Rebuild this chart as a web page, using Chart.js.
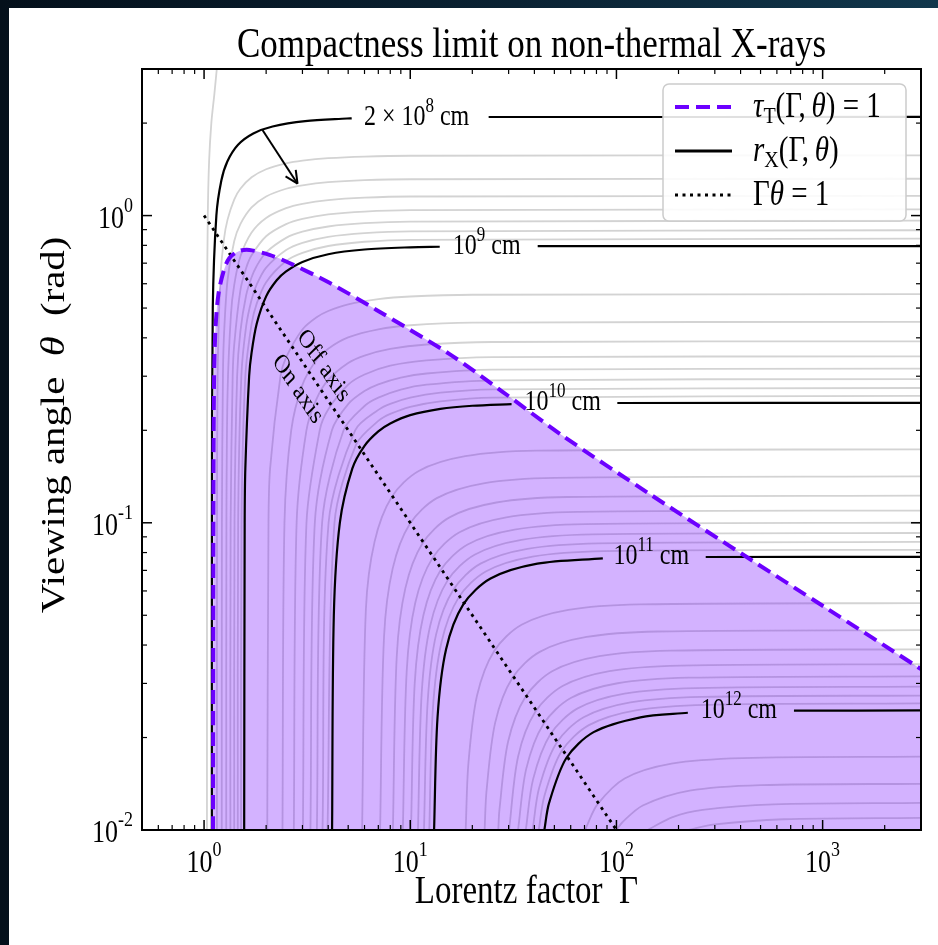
<!DOCTYPE html>
<html>
<head>
<meta charset="utf-8">
<title>Compactness limit on non-thermal X-rays</title>
<script src="https://cdn.jsdelivr.net/npm/chart.js"></script>
<style>
  html, body { margin: 0; padding: 0; width: 938px; height: 945px; overflow: hidden; }
  body { background: linear-gradient(90deg, #04101b 0%, #0a2233 55%, #11374c 100%); }
  #sheet { position: absolute; left: 9px; top: 8px; right: 0; bottom: 0; background: #fff; }
  #chart { position: absolute; left: 0; top: 0; }
</style>
</head>
<body>
<div id="sheet"></div>
<canvas id="chart" width="938" height="945"></canvas>
<script>
// Contours of r_X (cm) as [Lorentz factor, viewing angle in rad] points.
// One list per decade: k x 10^n for k = 1..9. A null angle breaks the line (label gap).
const contours1e8 = [
  [[1.0328,0.01],[1.035,0.5],[1.0424,1],[1.0577,1.5],[1.0845,2],[1.1228,2.5],[1.1528,3]],
  [[1.0911,0.01],[1.0915,0.1],[1.1022,0.5],[1.1472,1],[1.2128,1.3],[1.2968,1.5],[1.4616,1.7],[1.733,1.85],[2.1489,1.95],[3.0944,2.03],[4.934,2.07],[5.2,2.0726],[10,null],[24,2.0934],[3000,2.0944]],
  [[1.1547,0.01],[1.1556,0.1],[1.1637,0.3],[1.2,0.6282],[1.25,0.8411],[1.3,0.9702],[1.4,1.1275],[1.5,1.2222],[1.7,1.332],[2,1.4155],[2.5,1.4796],[3,1.5101],[4,1.538],[6,1.5566],[10,1.5658],[3000,1.5708]],
  [[1.2185,0.01],[1.2203,0.1],[1.2345,0.3],[1.25,0.4115],[1.3,0.6175],[1.4,0.8247],[1.5,0.9375],[1.7,1.0627],[2,1.1542],[2.5,1.2228],[3,1.2547],[4,1.284],[6,1.3034],[10,1.3128],[3000,1.3181]],
  [[1.281,0.01],[1.2836,0.1],[1.3,0.2652],[1.35,0.4766],[1.4,0.5937],[1.5,0.7354],[1.7,0.8805],[2,0.9828],[2.5,1.0575],[3,1.0921],[4,1.1232],[6,1.1437],[10,1.1539],[3000,1.1593]],
  [[1.3416,0.01],[1.3453,0.1],[1.3764,0.3],[1.4,0.3794],[1.5,0.5707],[1.6,0.6747],[1.7,0.7424],[2,0.8567],[2.5,0.9381],[3,0.9756],[4,1.0087],[6,1.0308],[10,1.0414],[3000,1.0472]],
  [[1.4003,0.01],[1.405,0.1],[1.4466,0.3],[1.5,0.4201],[1.6,0.5504],[1.7,0.6298],[1.8,0.6856],[2,0.7587],[2.5,0.8461],[3,0.886],[4,0.9214],[6,0.9445],[10,0.9557],[3000,0.9626]],
  [[1.457,0.01],[1.463,0.1],[1.5163,0.3],[1.6,0.437],[1.7,0.5325],[1.8,0.596],[2,0.677],[2.5,0.7729],[3,0.8155],[4,0.853],[6,0.8769],[10,0.8886],[3000,0.8957]],
  [[1.5119,0.01],[1.5192,0.1],[1.5855,0.3],[1.7,0.4434],[1.8,0.5168],[2,0.607],[2.5,0.7111],[3,0.7565],[4,0.7961],[6,0.8218],[10,0.8341],[3000,0.8411]]
];
const contours1e9 = [
  [[1.565,0.01],[1.5739,0.1],[1.5853,0.15],[1.6543,0.3],[1.7,0.3579],[1.8,0.4446],[2,0.5458],[2.25,0.6156],[2.5,0.658],[3,0.7066],[4,0.7486],[6,0.7755],[10,0.7884],[13.9,0.7917],[20,null],[41.5,0.795],[3000,0.7954]],
  [[2.025,0.01],[2.0531,0.1],[2.0903,0.15],[2.3471,0.3],[2.5,0.3453],[3,0.4257],[3.5,0.4657],[4,0.489],[5,0.5144],[7,0.5347],[10,0.5452],[20,0.5524],[3000,0.5548]],
  [[2.4004,0.01],[2.4545,0.1],[2.6466,0.2],[3,0.2812],[3.5,0.3379],[4,0.3687],[5,0.4013],[7,0.4264],[10,0.4395],[20,0.4481],[3000,0.451]],
  [[2.725,0.01],[2.811,0.1],[3.1364,0.2],[3.5,0.2518],[4,0.2917],[5,0.3312],[6,0.3503],[8,0.3684],[12,0.3805],[25,0.3877],[3000,0.3898]],
  [[3.0151,0.01],[3.1382,0.1],[3.6377,0.2],[4,0.2337],[5,0.2815],[6,0.3039],[8,0.3245],[12,0.3377],[25,0.3459],[3000,0.3482]],
  [[3.2796,0.01],[3.4448,0.1],[4.169,0.2],[5,0.2434],[6,0.2683],[7,0.2822],[9,0.2969],[12,0.3062],[25,0.3151],[3000,0.3176]],
  [[3.5243,0.01],[3.7364,0.1],[4.749,0.2],[6,0.24],[7,0.2555],[9,0.2714],[12,0.2815],[25,0.291],[3000,0.2937]],
  [[3.7537,0.01],[4.017,0.1],[5.404,0.2],[7,0.2331],[8,0.2439],[10,0.2556],[14,0.2651],[25,0.2717],[3000,0.2746]],
  [[3.9691,0.01],[4.29,0.1],[5.466,0.18],[7,0.2146],[8,0.2261],[10,0.2386],[14,0.2486],[25,0.2557],[3000,0.2588]]
];
const contours1e10 = [
  [[4.177,0.01],[4.259,0.05],[4.555,0.1],[5.234,0.15],[6,0.178],[7,0.1983],[8,0.2105],[10,0.2241],[14,0.2349],[20,0.2404],[31,0.2434],[50,null],[101,0.2454],[3000,0.2456]],
  [[5.84,0.01],[6.09,0.052],[6.71,0.0867],[8.13,0.1214],[10.99,0.1474],[18.49,0.1647],[40.93,0.1717],[3000,0.1734]],
  [[7.142,0.01],[7.46,0.04246],[8.21,0.07077],[9.94,0.09908],[13.45,0.12031],[22.65,0.13446],[50.13,0.14012],[3000,0.14154]],
  [[8.239,0.01],[8.6,0.03677],[9.47,0.06128],[11.47,0.08579],[15.5,0.10417],[26.15,0.11642],[57.88,0.12132],[3000,0.12255]],
  [[9.208,0.01],[9.61,0.03288],[10.57,0.0548],[12.81,0.07672],[17.33,0.09316],[29.24,0.10412],[64.71,0.1085],[3000,0.1096]],
  [[10.088,0.01],[10.51,0.03001],[11.58,0.05002],[14.03,0.07003],[18.98,0.08503],[32.03,0.09504],[70.89,0.09904],[3000,0.10004]],
  [[10.9,0.01],[11.36,0.02779],[12.5,0.04631],[15.15,0.06483],[20.5,0.07873],[34.59,0.08799],[76.57,0.09169],[3000,0.09262]],
  [[11.657,0.01],[12.14,0.02599],[13.35,0.04332],[16.2,0.06064],[21.92,0.07364],[36.98,0.0823],[81.85,0.08576],[3000,0.08663]],
  [[12.37,0.01],[12.86,0.0245],[14.17,0.04084],[17.18,0.05717],[23.25,0.06942],[39.22,0.07759],[86.82,0.08085],[3000,0.08167]]
];
const contours1e11 = [
  [[13.048,0.01],[13.56,0.02324],[14.92,0.03873],[18.08,0.05422],[24.51,0.06584],[41.35,0.07359],[85.9,0.07658],[150,null],[271,0.07737],[3000,0.07746]],
  [[18.57,0.01],[19.14,0.01643],[21.08,0.02739],[25.57,0.03834],[34.66,0.04656],[58.47,0.05203],[129.4,0.05422],[3000,0.05477]],
  [[22.94,0.01],[23.44,0.01342],[25.82,0.02236],[31.31,0.0313],[42.45,0.03801],[71.61,0.04249],[158.5,0.04427],[3000,0.04472]],
  [[26.73,0.01],[27.07,0.01162],[29.81,0.01937],[36.16,0.02711],[49.01,0.03292],[82.69,0.03679],[183,0.03834],[3000,0.03873]],
  [[30.15,0.01],[33.33,0.01732],[40.42,0.02425],[54.8,0.02944],[92.45,0.03291],[204.6,0.0343],[3000,0.03464]],
  [[33.33,0.01],[36.51,0.01581],[44.28,0.02214],[60.03,0.02688],[101.3,0.03004],[224.2,0.03131],[3000,0.03162]],
  [[36.34,0.01],[39.44,0.01464],[47.83,0.02049],[64.84,0.02489],[109.4,0.02781],[242.1,0.02898],[3000,0.02928]],
  [[39.22,0.01],[42.16,0.01369],[51.13,0.01917],[69.32,0.02328],[116.9,0.02602],[258.9,0.02711],[3000,0.02739]],
  [[42,0.01],[44.72,0.01291],[54.23,0.01807],[73.52,0.02195],[124,0.02453],[274.5,0.02556],[3000,0.02582]]
];
const contours1e12 = [
  [[44.72,0.01],[47.14,0.01225],[57.17,0.01715],[77.5,0.02082],[130.7,0.02327],[222,0.02408],[400,null],[726,0.02446],[3000,0.024495]],
  [[70.71,0.01],[72.2,0.01039],[80.85,0.01212],[109.6,0.01472],[184.9,0.01645],[409.3,0.01715],[3000,0.01732]],
  [[100,0.01],[106.9,0.0106],[134.2,0.01202],[226.5,0.01343],[501.3,0.014],[3000,0.01414]],
  [[141.4,0.01],[187.3,0.01102],[261.5,0.01163],[578.8,0.01212],[3000,0.01225]],
  [[223.6,0.01],[292.4,0.01041],[647.1,0.01084],[3000,0.01095]]
];
// which curve of each decade is labelled (2e8, 1e9, 1e10, 1e11, 1e12 cm)
const labelledIndex = [1, 0, 0, 0, 0];

// tau_T = 1 boundary (shaded below)
const tauGamma = [1.105, 1.11, 1.118, 1.135, 1.173, 1.241, 1.327, 1.483, 1.659, 2.075, 2.595, 4.058, 6.861, 15.52, 28.05, 54.27, 145.1, 443.6, 1026, 3000];
const tauTheta = [0.01, 0.12, 0.29, 0.424, 0.552, 0.656, 0.728, 0.767, 0.773, 0.745, 0.701, 0.604, 0.493, 0.354, 0.267, 0.193, 0.124, 0.0762, 0.0531, 0.0334];

// Gamma * theta = 1
const onAxisGamma = [1, 100];
const onAxisTheta = [1, 0.01];

// contour labels
const labelBase = ['2 \u00d7 10', '10', '10', '10', '10'];
const labelExp = ['8', '9', '10', '11', '12'];
const labelGamma = [10.73, 23.47, 54.87, 147.6, 392.5];
const labelTheta = [2.094, 0.7954, 0.2456, 0.07746, 0.0245];

// arrow and the two side notes along the dotted line
const arrowGamma = [1.92, 2.84];
const arrowTheta = [1.9, 1.27];
const sideNotes = ['Off axis', 'On axis'];
const sideGamma = [3.79, 2.84];
const sideTheta = [0.324, 0.2726];

// ticks
const xMajorTicks = [1, 10, 100, 1000];
const xTickExp = ['0', '1', '2', '3'];
const xMinorTicks = [0.6, 0.7, 0.8, 0.9, 2, 3, 4, 5, 6, 7, 8, 9, 20, 30, 40, 50, 60, 70, 80, 90, 200, 300, 400, 500, 600, 700, 800, 900, 2000];
const yMajorTicks = [0.01, 0.1, 1];
const yTickExp = ['-2', '-1', '0'];
const yMinorTicks = [0.02, 0.03, 0.04, 0.05, 0.06, 0.07, 0.08, 0.09, 0.2, 0.3, 0.4, 0.5, 0.6, 0.7, 0.8, 0.9, 2];

const SERIF = '"Liberation Serif", "Times New Roman", serif';
const STRETCH = 1.2; // the reference glyphs are taller than they are wide
const PURPLE = '#6c00ff';
const FILL = 'rgba(108, 0, 255, 0.3)';
const GREY = '#d3d3d3';

function setFont(ctx, size, style) {
  ctx.font = (style ? style + ' ' : '') + size + 'px ' + SERIF;
}
function runWidth(ctx, parts) {
  let w = 0;
  parts.forEach(p => { setFont(ctx, p[1], p[2]); w += ctx.measureText(p[0]).width; });
  return w;
}
// parts: [text, size, style, rise]
function drawRun(ctx, parts, x, y, align, angle) {
  ctx.save();
  ctx.translate(x, y);
  ctx.scale(1, STRETCH);
  if (angle) ctx.rotate(angle);
  ctx.textBaseline = 'middle';
  ctx.textAlign = 'left';
  ctx.fillStyle = '#000';
  const w = runWidth(ctx, parts);
  let cx = align === 'center' ? -w / 2 : (align === 'right' ? -w : 0);
  parts.forEach(p => {
    setFont(ctx, p[1], p[2]);
    ctx.fillText(p[0], cx, -(p[3] || 0));
    cx += ctx.measureText(p[0]).width;
  });
  ctx.restore();
}
function line(ctx, x0, y0, x1, y1) {
  ctx.beginPath();
  ctx.moveTo(x0, y0);
  ctx.lineTo(x1, y1);
  ctx.stroke();
}

// datasets
const datasets = [];
const blackCurves = [];
[contours1e8, contours1e9, contours1e10, contours1e11, contours1e12].forEach((decade, d) => {
  decade.forEach((curve, i) => {
    const black = i === labelledIndex[d];
    const ds = {
      data: curve.map(p => ({ x: p[0], y: p[1] })),
      borderColor: black ? '#000' : GREY,
      borderWidth: black ? 2.2 : 1.8,
      tension: 0.3,
      fill: false,
      order: black ? 2 : 4
    };
    if (black) blackCurves.push(ds); else datasets.push(ds);
  });
});
const tauPoints = tauGamma.map((g, i) => ({ x: g, y: tauTheta[i] }));
datasets.push({
  data: tauPoints, borderColor: 'rgba(0,0,0,0)', borderWidth: 1,
  backgroundColor: FILL, fill: 'start', tension: 0.3, order: 3
});
blackCurves.forEach(ds => datasets.push(ds));
datasets.push({
  data: onAxisGamma.map((g, i) => ({ x: g, y: onAxisTheta[i] })),
  borderColor: '#000', borderWidth: 2.8, borderDash: [3, 4.5], tension: 0, fill: false, order: 1
});
datasets.push({
  data: tauPoints, borderColor: PURPLE, borderWidth: 4, borderDash: [14, 7],
  tension: 0.3, fill: false, order: 0
});

const decorations = {
  id: 'decorations',
  afterDatasetsDraw(chart) {
    const ctx = chart.ctx;
    const a = chart.chartArea;
    const x = chart.scales.x, y = chart.scales.y;
    const cx = (a.left + a.right) / 2;

    // contour labels
    labelGamma.forEach((g, i) => {
      drawRun(ctx, [[labelBase[i], 24], [labelExp[i], 17, '', 9], [' cm', 24]],
        x.getPixelForValue(g), y.getPixelForValue(labelTheta[i]), 'center');
    });

    // arrow from the 2e8 contour
    ctx.save();
    ctx.strokeStyle = '#000';
    ctx.lineWidth = 2;
    const ax0 = x.getPixelForValue(arrowGamma[0]), ay0 = y.getPixelForValue(arrowTheta[0]);
    const ax1 = x.getPixelForValue(arrowGamma[1]), ay1 = y.getPixelForValue(arrowTheta[1]);
    line(ctx, ax0, ay0, ax1, ay1);
    const ang = Math.atan2(ay1 - ay0, ax1 - ax0);
    [0.45, -0.45].forEach(s => {
      line(ctx, ax1, ay1, ax1 - 14 * Math.cos(ang + s), ay1 - 14 * Math.sin(ang + s));
    });
    ctx.restore();

    // side notes along Gamma*theta = 1
    const dx = x.getPixelForValue(onAxisGamma[1]) - x.getPixelForValue(onAxisGamma[0]);
    const dy = y.getPixelForValue(onAxisTheta[1]) - y.getPixelForValue(onAxisTheta[0]);
    const rot = Math.atan2(dy / STRETCH, dx);
    sideNotes.forEach((t, i) => {
      drawRun(ctx, [[t, 22]], x.getPixelForValue(sideGamma[i]), y.getPixelForValue(sideTheta[i]), 'center', rot);
    });

    // frame and inward ticks
    ctx.save();
    ctx.strokeStyle = '#000';
    ctx.lineWidth = 1.5;
    xMajorTicks.forEach(v => {
      const p = x.getPixelForValue(v);
      line(ctx, p, a.bottom, p, a.bottom - 10);
      line(ctx, p, a.top, p, a.top + 10);
    });
    yMajorTicks.forEach(v => {
      const p = y.getPixelForValue(v);
      line(ctx, a.left, p, a.left + 10, p);
      line(ctx, a.right, p, a.right - 10, p);
    });
    ctx.lineWidth = 1.2;
    xMinorTicks.forEach(v => {
      const p = x.getPixelForValue(v);
      line(ctx, p, a.bottom, p, a.bottom - 5);
      line(ctx, p, a.top, p, a.top + 5);
    });
    yMinorTicks.forEach(v => {
      const p = y.getPixelForValue(v);
      line(ctx, a.left, p, a.left + 5, p);
      line(ctx, a.right, p, a.right - 5, p);
    });
    ctx.lineWidth = 2;
    ctx.strokeRect(a.left, a.top, a.right - a.left, a.bottom - a.top);
    ctx.restore();

    // tick labels
    xMajorTicks.forEach((v, i) => {
      drawRun(ctx, [['10', 26], [xTickExp[i], 18, '', 11]], x.getPixelForValue(v), a.bottom + 34, 'center');
    });
    yMajorTicks.forEach((v, i) => {
      drawRun(ctx, [['10', 26], [yTickExp[i], 18, '', 11]], a.left - 9, y.getPixelForValue(v) + 4, 'right');
    });

    // axis titles and title
    drawRun(ctx, [['Lorentz factor  \u0393', 33]], cx - 5, a.bottom + 63, 'center');
    drawRun(ctx, [['Viewing angle  ', 34], ['\u03b8', 34, 'italic'], ['  (rad)', 34]],
      55, 425, 'center', -Math.PI / 2);
    drawRun(ctx, [['Compactness limit on non-thermal X-rays', 35]], cx, 46, 'center');

    // legend
    const lw = 243, lh = 137;
    const lx = a.right - 15 - lw, ly = a.top + 15;
    ctx.save();
    ctx.beginPath();
    ctx.roundRect(lx, ly, lw, lh, 6);
    ctx.fillStyle = 'rgba(255,255,255,0.88)';
    ctx.fill();
    ctx.strokeStyle = '#cccccc';
    ctx.lineWidth = 1.5;
    ctx.stroke();
    const rows = [ly + 23, ly + 67, ly + 111];
    const sx0 = lx + 12, sx1 = lx + 69;
    ctx.lineWidth = 4; ctx.strokeStyle = PURPLE; ctx.setLineDash([14, 7]);
    line(ctx, sx0, rows[0], sx1, rows[0]);
    ctx.lineWidth = 2.8; ctx.strokeStyle = '#000'; ctx.setLineDash([]);
    line(ctx, sx0, rows[1], sx1, rows[1]);
    ctx.setLineDash([3, 4.5]);
    line(ctx, sx0, rows[2], sx1, rows[2]);
    ctx.restore();
    const tx = lx + 90;
    drawRun(ctx, [['\u03c4', 29, 'italic'], ['T', 20, '', -7], ['(\u0393,\u2009', 29], ['\u03b8', 29, 'italic'], [') = 1', 29]], tx, rows[0] + 1, 'left');
    drawRun(ctx, [['r', 29, 'italic'], ['X', 20, '', -7], ['(\u0393,\u2009', 29], ['\u03b8', 29, 'italic'], [')', 29]], tx, rows[1] + 1, 'left');
    drawRun(ctx, [['\u0393', 29], ['\u03b8', 29, 'italic'], [' = 1', 29]], tx, rows[2] + 1, 'left');
  }
};

new Chart(document.getElementById('chart'), {
  type: 'line',
  data: { datasets: datasets },
  options: {
    responsive: false,
    animation: false,
    layout: { padding: { left: 142, right: 17, top: 69, bottom: 115 } },
    elements: { point: { radius: 0 } },
    scales: {
      x: { type: 'logarithmic', min: 0.5, max: 3000, display: false },
      y: { type: 'logarithmic', min: 0.01, max: 3, display: false }
    },
    plugins: { legend: { display: false }, tooltip: { enabled: false }, title: { display: false } }
  },
  plugins: [decorations]
});
</script>
</body>
</html>
